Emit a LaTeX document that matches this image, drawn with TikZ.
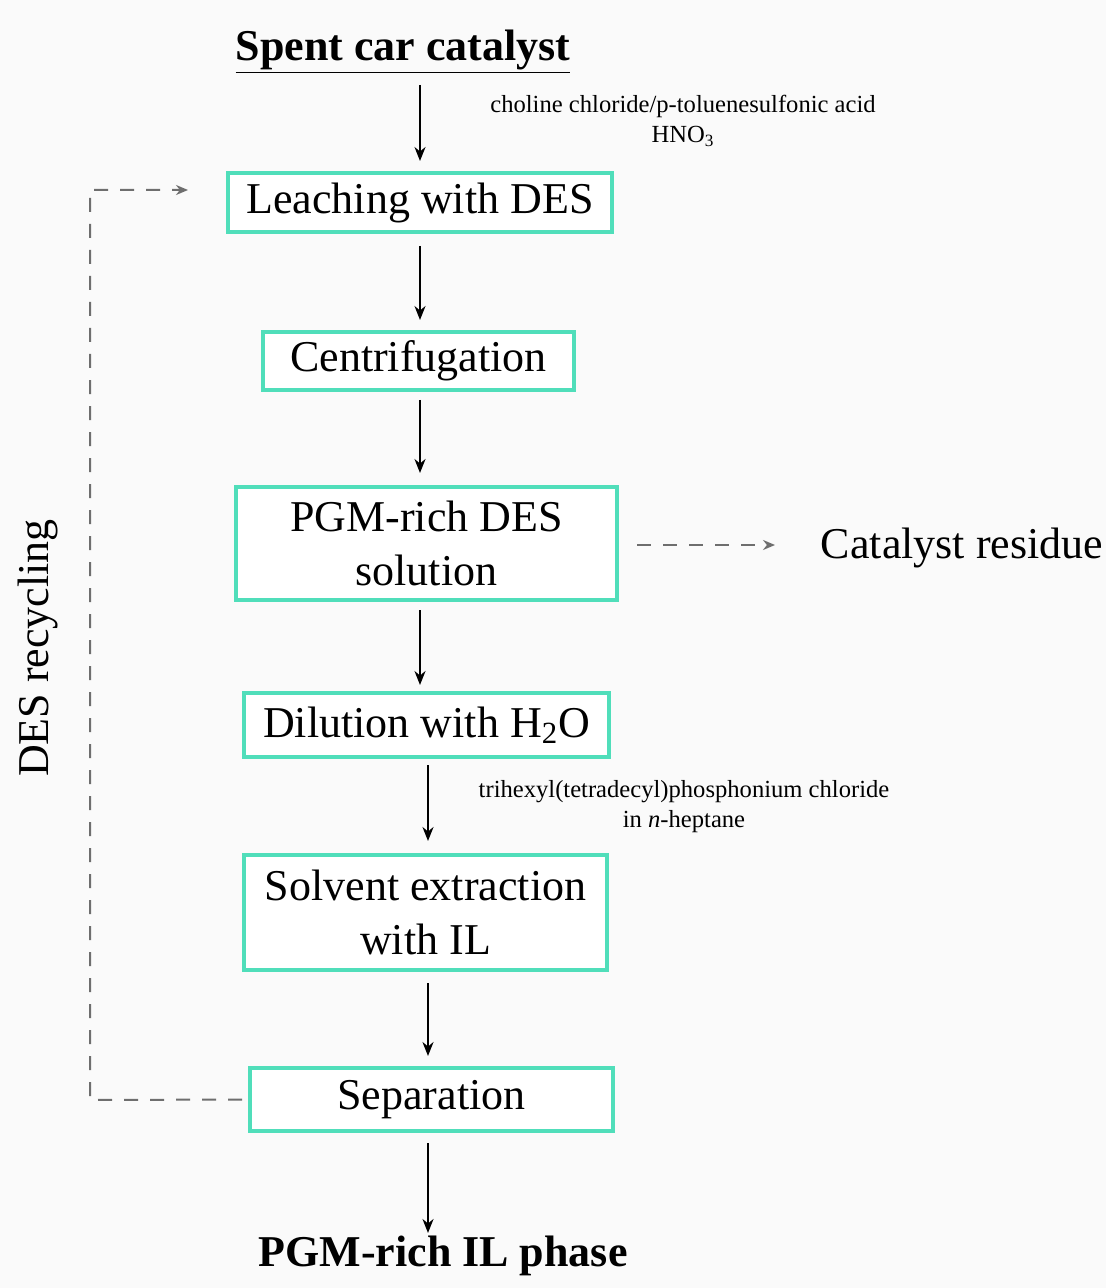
\documentclass[tikz,border=0pt]{standalone}
\usepackage{fontspec}
\setmainfont{Liberation Serif}
\usetikzlibrary{arrows.meta}
\definecolor{boxline}{RGB}{80,222,186}
\definecolor{dashgray}{RGB}{110,110,110}
\begin{document}
\begin{tikzpicture}[x=0.5pt,y=-0.5pt,
  big/.style={font=\fontsize{22}{25}\selectfont},
  small/.style={font=\fontsize{12.3}{15}\selectfont, align=center},
  stepbox/.style={draw=boxline, line width=2pt, fill=white, align=center,
     inner sep=0pt, font=\fontsize{22}{27}\selectfont},
  arr/.style={-{Stealth[length=7pt,width=5.5pt]}, line width=1pt, black},
  darr/.style={dashgray, line width=1pt, dash pattern=on 7pt off 6pt},
]
\fill[gray!4] (0,0) rectangle (1106,1288);
\useasboundingbox (0,0) rectangle (1106,1288);

\node[big, font=\fontsize{22}{25}\selectfont\bfseries] (top) at (403,52) {\underline{Spent car catalyst}};

\node[stepbox, minimum width=192pt, minimum height=29.5pt] (lea) at (420,202.5) {Leaching with DES};
\node[stepbox, minimum width=155.5pt, minimum height=29pt] (cen) at (418.5,361) {Centrifugation};
\node[stepbox, minimum width=190.5pt, minimum height=56.5pt] (pgm) at (426.5,543.5) {PGM-rich DES\\solution};
\node[stepbox, minimum width=182.5pt, minimum height=32pt] (dil) at (426.5,725) {Dilution with H\textsubscript{2}O};
\node[stepbox, minimum width=181.5pt, minimum height=57.5pt] (sol) at (425.5,912.5) {Solvent extraction\\with IL};
\node[stepbox, minimum width=181.5pt, minimum height=31.5pt] (sep) at (431.5,1099.5) {Separation};

\node[big, font=\fontsize{22}{25}\selectfont\bfseries] (il) at (443,1256) {PGM-rich IL phase};
\node[big] (res) at (962,548) {Catalyst residue};
\node[big, rotate=90] (rec) at (38,648) {DES recycling};

\node[small] (r1) at (683,121) {choline chloride/p-toluenesulfonic acid\\HNO\textsubscript{3}};
\node[small] (r2) at (684,807) {trihexyl(tetradecyl)phosphonium chloride\\in \textit{n}-heptane};

% main arrows
\coordinate (a0s) at (420,85);
\draw[arr] (a0s) -- ([yshift=5pt]a0s |- lea.north);
\draw[arr] ([yshift=-6pt]lea.south) -- ([yshift=5pt]lea.south |- cen.north);
\coordinate (a2) at (420,400);
\draw[arr] (a2) -- ([yshift=6pt]a2 |- pgm.north);
\coordinate (a3) at (420,610);
\draw[arr] (a3) -- ([yshift=3pt]a3 |- dil.north);
\coordinate (a4) at (428,765);
\draw[arr] (a4) -- ([yshift=6pt]a4 |- sol.north);
\coordinate (a5) at (428,983);
\draw[arr] (a5) -- ([yshift=5pt]a5 |- sep.north);
\coordinate (a6) at (428,1143);
\draw[arr] (a6) -- ([yshift=-2pt]a6 |- il.north);

% dashed connectors
\coordinate (resend) at (775,545);
\draw[darr, -{Stealth[length=6pt,width=5pt]}] ([xshift=9pt]pgm.east |- resend) -- (resend);
\coordinate (c1) at (90,1100);
\coordinate (c2) at (90,190);
\coordinate (c3) at (188,190);
\draw[darr, -{Stealth[length=6pt,width=5pt]}] ([xshift=-3pt]sep.west) -- (c1) -- (c2) -- (c3);
\end{tikzpicture}
\end{document}
